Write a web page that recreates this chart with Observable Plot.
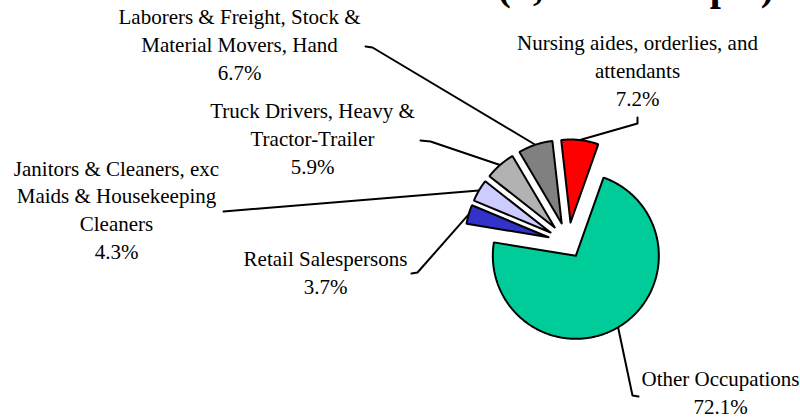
<!DOCTYPE html>
<html><head><meta charset="utf-8">
<script src="https://cdn.jsdelivr.net/npm/d3@7"></script>
<script src="https://cdn.jsdelivr.net/npm/@observablehq/plot@0.6"></script>
<style>html,body{margin:0;padding:0;background:#fff;overflow:hidden;}</style>
</head><body><div id="chart"></div>
<script>
// ---- data ----
const categories = [
  "Other Occupations",
  "Retail Salespersons",
  "Janitors & Cleaners, exc\nMaids & Housekeeping\nCleaners",
  "Truck Drivers, Heavy &\nTractor-Trailer",
  "Laborers & Freight, Stock &\nMaterial Movers, Hand",
  "Nursing aides, orderlies, and\nattendants"
];
const shares = [72.1, 3.7, 4.3, 5.9, 6.7, 7.2];
const sliceColors = ["#00CC99", "#3333CC", "#CCCCFF", "#B2B2B2", "#808080", "#FF0000"];
const titleText = "(n, total sample)";

// ---- layout ----
const W = 800, H = 419, CX = 567.7, CY = 242.4, R = 83, START_DEG = 19.5;
const explode = [15, 20.5, 20.5, 20.5, 20.5, 20.5];
const labelPos = [[720, 413], [325, 293], [116, 258], [312, 173], [239, 79], [637, 105]];
const leaderTail = [
  [[632, 395], [638, 396]],
  [[417, 272], [411, 273]],
  [[223, 211]],
  [[430, 141], [420, 140]],
  [[372, 47], [365, 46]],
  [[637, 123], [637, 117]]
];

const a0 = START_DEG * Math.PI / 180;
const arcs = d3.pie().sort(null).value(d => d).startAngle(a0).endAngle(a0 + 2 * Math.PI)(shares);

const slicePts = [];
const leaderPts = [];
const labels = [];
arcs.forEach((a, i) => {
  const mid = (a.startAngle + a.endAngle) / 2;
  const ox = CX + explode[i] * Math.sin(mid), oy = CY - explode[i] * Math.cos(mid);
  const pts = [[ox, oy]];
  const n = Math.max(4, Math.ceil((a.endAngle - a.startAngle) / 0.01));
  for (let k = 0; k <= n; k++) {
    const t = a.startAngle + (a.endAngle - a.startAngle) * k / n;
    pts.push([ox + R * Math.sin(t), oy - R * Math.cos(t)]);
  }
  pts.push([ox, oy]);
  pts.forEach(p => slicePts.push({id: i, x: p[0], y: p[1], color: sliceColors[i]}));
  const lp = [[ox + R * Math.sin(mid), oy - R * Math.cos(mid)], ...leaderTail[i]];
  lp.forEach(p => leaderPts.push({id: i, x: p[0], y: p[1]}));
  labels.push({x: labelPos[i][0], y: labelPos[i][1], text: categories[i] + "\n" + d3.format(".1f")(shares[i]) + "%"});
});

const chart = Plot.plot({
  width: W, height: H,
  margin: 0,
  x: {domain: [0, W], range: [0, W], axis: null},
  y: {domain: [0, H], range: [0, H], axis: null},
  color: {type: "identity"},
  style: {background: "white", fontFamily: "'Liberation Serif', serif", overflow: "hidden"},
  marks: [
    Plot.line(leaderPts, {x: "x", y: "y", z: "id", stroke: "black", strokeWidth: 2}),
    Plot.line(slicePts, {x: "x", y: "y", z: "id", fill: "color", stroke: "black", strokeWidth: 2, strokeLinejoin: "miter"}),
    Plot.text(labels, {x: "x", y: "y", text: "text", textAnchor: "middle", lineAnchor: "bottom",
      fontSize: 21, lineHeight: 1.31, fill: "black", fontFamily: "'Liberation Serif', serif"}),
    Plot.text([titleText], {x: () => 497, y: () => -1, text: d => d, textAnchor: "start", lineAnchor: "bottom",
      fontSize: 40, fontWeight: "bold", fill: "black", fontFamily: "'Liberation Serif', serif"})
  ]
});
document.getElementById("chart").appendChild(chart);
</script>
</body></html>
